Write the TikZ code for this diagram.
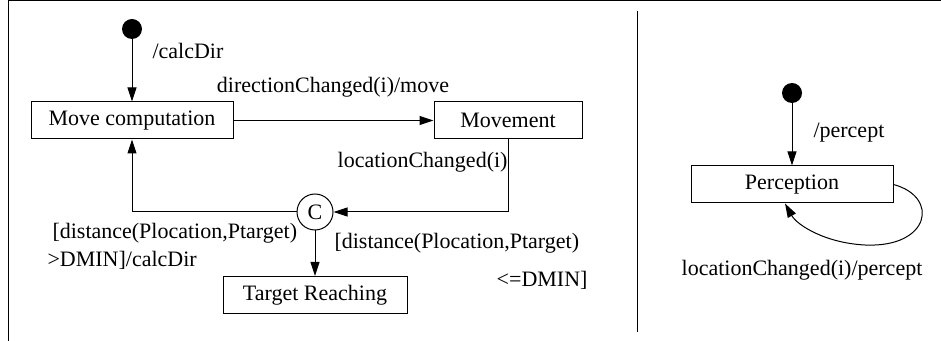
\documentclass[tikz,border=0pt]{standalone}
\usepackage{fontspec}
\setmainfont{Liberation Serif}
\usetikzlibrary{positioning,arrows.meta}

\begin{document}
\begin{tikzpicture}[
x=0.5pt,y=-0.5pt,
font=\fontsize{11}{13}\selectfont,
state/.style={rectangle, draw, minimum height=18.5pt, inner sep=0pt},
initial/.style={circle, fill=black, minimum size=10pt, inner sep=0pt},
choice/.style={circle, draw, minimum size=18pt, inner sep=0pt},
lbl/.style={inner sep=0pt},
>={Triangle[length=7pt,width=4.5pt]},
every path/.style={line width=0.5pt},
]
\useasboundingbox (0,0) rectangle (941,341);

% frame and divider
\draw (8,341) -- (8,0.5) -- (941,0.5);
\draw (637,11) -- (637,332);

% left part
\node[initial] (init1) at (132,29) {};
\node[state, minimum width=101pt] (movecomp) at (132,120.5) {Move computation};
\node[state, minimum width=74pt] (movement) at (508,120.5) {Movement};
\node[choice] (cond) at (315,212) {C};
\node[state, minimum width=92pt] (target) at (315,295) {Target Reaching};

\node[lbl, anchor=west] (l1) at (152,51) {/calcDir};
\node[lbl] (l2) at (333,87) {directionChanged(i)/move};
\node[lbl, anchor=east] (l3) at (508,162) {locationChanged(i)};
\node[lbl, anchor=west] (l4) at (52,233) {[distance(Plocation,Ptarget)};
\node[lbl, anchor=west] (l5) at (47,260) {>DMIN]/calcDir};
\node[lbl, anchor=west] (l6) at (334,243) {[distance(Plocation,Ptarget)};
\node[lbl, anchor=east] (l7) at (588,280) {<=DMIN]};

\draw[->] (init1) -- (movecomp);
\draw[->] (movecomp) -- (movement);
\draw[->] (movement.south) |- (cond);
\draw[->] (cond) -| (movecomp.south);
\draw[->] (cond) -- (target);

% right part
\node[initial] (init2) at (792,93) {};
\node[state, minimum width=101pt] (percept) at (792,184.5) {Perception};

\node[lbl, anchor=west] (l8) at (813,133) {/percept};
\node[lbl] (l9) at (802,270) {locationChanged(i)/percept};

\draw[->] (init2) -- (percept);
\draw[->] (percept.east) .. controls (940,197) and (930,248) .. (865,245)
  .. controls (825,243) and (797,225) .. ([xshift=-3.5pt]percept.south);
\end{tikzpicture}
\end{document}
